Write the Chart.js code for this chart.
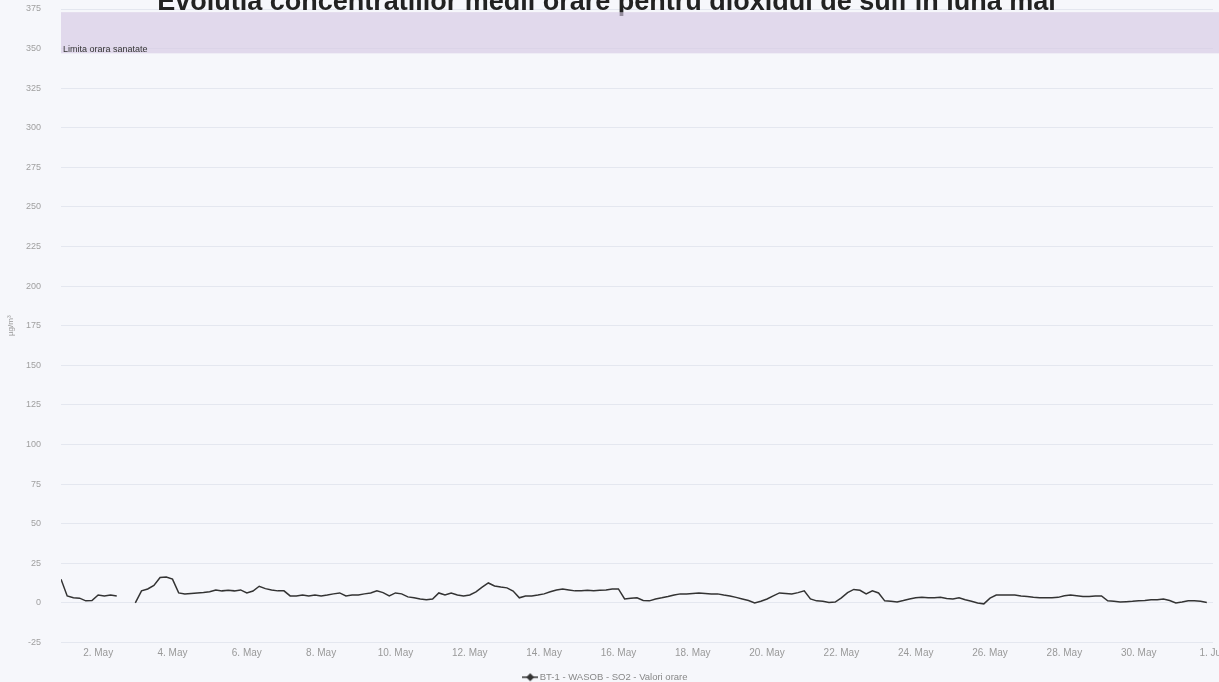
<!DOCTYPE html>
<html><head><meta charset="utf-8">
<script src="https://cdn.jsdelivr.net/npm/chart.js@4.4.1/dist/chart.umd.min.js"></script>
<style>
html,body{margin:0;padding:0;background:#f6f7fb;}
#wrap{width:1219px;height:682px;position:relative;overflow:hidden;}
canvas{display:block;}
</style>
</head><body>
<div id="wrap"><canvas id="c" width="1219" height="682"></canvas></div>
<script>
const titleText = 'Evolutia concentratiilor medii orare pentru dioxidul de sulf in luna mai';
const seriesName = 'BT-1 - WASOB - SO2 - Valori orare';
const yAxisTitle = 'µg/m³';
const stepHours = 4;
// SO2 hourly concentration, sampled every 4 hours from 1 May 00:00 (null = no data)
const so2Values = [
  15, 4.4, 3.2, 3, 1.3, 1.5,
  5, 4.4, 5, 4.4, null, null,
  0, 7.6, 8.8, 11, 16, 16.4,
  15, 6.3, 5.7, 6, 6.3, 6.5,
  7, 8.2, 7.6, 8, 7.6, 8.2,
  6.3, 7.5, 10.5, 9, 8.2, 7.6,
  7.6, 4.4, 4.4, 5, 4.4, 5,
  4.4, 5, 5.7, 6.3, 4.4, 5,
  5, 5.7, 6.3, 7.6, 6.5, 4.4,
  6.3, 5.7, 3.8, 3.2, 2.5, 2,
  2.5, 6.3, 5, 6.3, 5, 4.4,
  5, 7, 10, 12.6, 10.7, 10,
  9.5, 7.5, 3.2, 4.4, 4.4, 5,
  5.7, 7, 8.2, 8.8, 8.2, 7.6,
  7.6, 8, 7.6, 8, 8.2, 8.8,
  8.8, 2.5, 3, 3.2, 1.5, 1.3,
  2.5, 3.2, 4, 5, 5.7, 5.7,
  6, 6.3, 6, 5.7, 5.7, 5,
  4.4, 3.5, 2.5, 1.5, 0, 1,
  2.5, 4.4, 6.3, 6, 5.7, 6.5,
  7.6, 2.5, 1.3, 1, 0.3, 0.5,
  3.2, 6.5, 8.5, 8, 5.7, 7.6,
  6.3, 1.3, 1, 0.6, 1.5, 2.5,
  3.2, 3.5, 3.2, 3.2, 3.5, 2.8,
  2.5, 3.2, 2, 1, 0, -0.6,
  3, 5, 5, 5, 5, 4.4,
  4, 3.5, 3.2, 3.2, 3.2, 3.5,
  4.5, 5, 4.5, 4, 4, 4.4,
  4.4, 1.3, 1, 0.6, 0.8, 1,
  1.3, 1.5, 2, 2, 2.5, 1.5,
  0, 0.6, 1.3, 1.3, 1, 0.3
];
const xTickHours = [24, 72, 120, 168, 216, 264, 312, 360, 408, 456, 504, 552, 600, 648, 696, 744];
const xTickLabels = ['2. May','4. May','6. May','8. May','10. May','12. May','14. May','16. May','18. May','20. May','22. May','24. May','26. May','28. May','30. May','1. Jun'];
const yMin = -25, yMax = 375, yStep = 25;
const bandFrom = 347, bandTo = 373, bandLabelValue = 350;
const bandLabel = 'Limita orara sanatate';

const FONT = '"Liberation Sans", Arial, sans-serif';
const points = so2Values.map((v, i) => ({x: i * stepHours, y: v}));

// legend symbol: line with diamond
const sym = document.createElement('canvas');
sym.width = 16; sym.height = 10;
(function(){
  const g = sym.getContext('2d');
  g.strokeStyle = '#333'; g.lineWidth = 1.5;
  g.beginPath(); g.moveTo(0,5); g.lineTo(16,5); g.stroke();
  g.fillStyle = '#333';
  g.beginPath(); g.moveTo(8,1); g.lineTo(12,5); g.lineTo(8,9); g.lineTo(4,5); g.closePath(); g.fill();
})();

const bandPlugin = {
  id: 'band',
  beforeDatasetsDraw(chart) {
    const {ctx, chartArea, scales} = chart;
    const y1 = scales.y.getPixelForValue(bandTo);
    const y2 = scales.y.getPixelForValue(bandFrom);
    ctx.save();
    ctx.fillStyle = 'rgba(214,202,228,0.65)';
    ctx.fillRect(chartArea.left, y1, chartArea.right - chartArea.left + 10, y2 - y1);
    ctx.fillStyle = '#333';
    ctx.font = '9px ' + FONT;
    ctx.textBaseline = 'middle';
    ctx.textAlign = 'left';
    ctx.fillText(bandLabel, chartArea.left + 2, scales.y.getPixelForValue(bandLabelValue) + 1);
    ctx.restore();
  }
};

new Chart(document.getElementById('c'), {
  type: 'line',
  data: {
    datasets: [{
      label: seriesName,
      data: points,
      borderColor: '#333',
      backgroundColor: '#333',
      borderWidth: 1.5,
      pointRadius: 0,
      pointStyle: sym,
      tension: 0,
      spanGaps: false
    }]
  },
  options: {
    responsive: false,
    animation: false,
    devicePixelRatio: 1,
    layout: {padding: {left: 0, right: 6, top: 0, bottom: -10}},
    plugins: {
      title: {
        display: true,
        text: titleText,
        color: '#222',
        font: {family: FONT, size: 27, weight: 'bold'},
        padding: {top: -13.7, bottom: -9.7}
      },
      legend: {
        position: 'bottom',
        labels: {
          usePointStyle: true,
          color: '#888',
          font: {family: FONT, size: 9.5},
          padding: 1
        }
      },
      tooltip: {enabled: false}
    },
    scales: {
      x: {
        type: 'linear',
        min: 0,
        max: 744,
        grid: {display: false, drawTicks: false},
        border: {display: false},
        afterBuildTicks: (scale) => { scale.ticks = xTickHours.map(v => ({value: v})); },
        afterFit: (scale) => { scale.paddingRight = 0; scale.paddingLeft = 0; scale.height = 29; },
        ticks: {
          color: '#999',
          font: {family: FONT, size: 10},
          padding: 5,
          maxRotation: 0,
          autoSkip: false,
          callback: (v) => { const i = xTickHours.indexOf(v); return i >= 0 ? xTickLabels[i] : ''; }
        }
      },
      y: {
        min: yMin,
        max: yMax,
        grid: {color: '#e4e7ef', drawTicks: false, lineWidth: 1},
        border: {display: false},
        afterFit: (scale) => { scale.width = 61; scale.paddingTop = 0; },
        ticks: {
          stepSize: yStep,
          color: '#a0a0a0',
          font: {family: FONT, size: 9},
          padding: 20
        },
        title: {
          display: true,
          text: yAxisTitle,
          color: '#999',
          font: {family: FONT, size: 8},
          padding: {top: 6, bottom: 0}
        }
      }
    }
  },
  plugins: [bandPlugin]
});
</script>
</body></html>
